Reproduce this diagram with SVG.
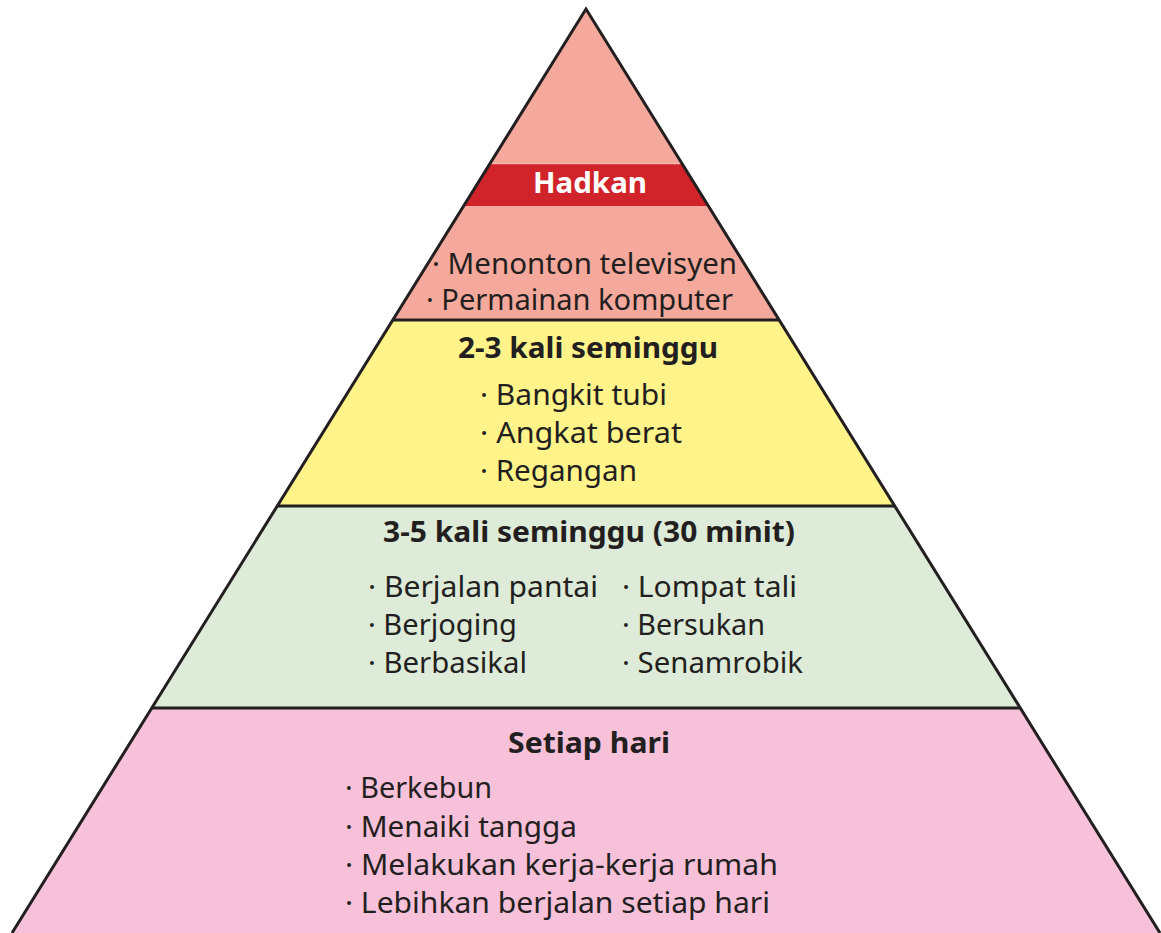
<svg xmlns="http://www.w3.org/2000/svg" width="1161" height="933" viewBox="0 0 1161 933">
  <style>
    .t { font-family: "Noto Sans", "Open Sans", "DejaVu Sans", sans-serif; font-size: 29px; fill: #231F20; }
    .h { font-family: "Noto Sans", "Open Sans", "DejaVu Sans", sans-serif; font-size: 29px; font-weight: bold; fill: #231F20; text-anchor: middle; }
    .w { fill: #FFFFFF; }
    .edge { fill: none; stroke: #231F20; stroke-width: 3; stroke-linejoin: miter; }
    .div { stroke: #231F20; stroke-width: 3; }
  </style>
  <rect width="1161" height="933" fill="#FFFFFF"/>

  <!-- Top tier: limit -->
  <g id="tier-hadkan">
    <polygon points="586,9 392.8,320 779.2,320" fill="#F5A99C"/>
    <polygon points="490.3,163 681.7,163 708.4,206 463.6,206" fill="#D1232A"/>
    <line x1="490.3" y1="163.5" x2="681.7" y2="163.5" stroke="#F2B7AE" stroke-width="1.5"/>
    <text class="h w" x="590" y="193" textLength="114" lengthAdjust="spacingAndGlyphs">Hadkan</text>
    <text class="t" x="432" y="274" textLength="305" lengthAdjust="spacingAndGlyphs">· Menonton televisyen</text>
    <text class="t" x="426" y="310" textLength="307" lengthAdjust="spacingAndGlyphs">· Permainan komputer</text>
  </g>

  <!-- Second tier: 2-3 times a week -->
  <g id="tier-2-3">
    <polygon points="392.8,320 779.2,320 894.7,506 277.3,506" fill="#FFF38A"/>
    <text class="h" x="588" y="358" textLength="260" lengthAdjust="spacingAndGlyphs">2-3 kali seminggu</text>
    <text class="t" x="480" y="405" textLength="187" lengthAdjust="spacingAndGlyphs">· Bangkit tubi</text>
    <text class="t" x="480" y="443" textLength="202" lengthAdjust="spacingAndGlyphs">· Angkat berat</text>
    <text class="t" x="480" y="481" textLength="157" lengthAdjust="spacingAndGlyphs">· Regangan</text>
  </g>

  <!-- Third tier: 3-5 times a week -->
  <g id="tier-3-5">
    <polygon points="277.3,506 894.7,506 1020.2,708 151.8,708" fill="#DDEBD8"/>
    <text class="h" x="589" y="542" textLength="412" lengthAdjust="spacingAndGlyphs">3-5 kali seminggu (30 minit)</text>
    <text class="t" x="368" y="597" textLength="230" lengthAdjust="spacingAndGlyphs">· Berjalan pantai</text>
    <text class="t" x="368" y="635" textLength="149" lengthAdjust="spacingAndGlyphs">· Berjoging</text>
    <text class="t" x="368" y="673" textLength="159" lengthAdjust="spacingAndGlyphs">· Berbasikal</text>
    <text class="t" x="622" y="597" textLength="175" lengthAdjust="spacingAndGlyphs">· Lompat tali</text>
    <text class="t" x="622" y="635" textLength="143" lengthAdjust="spacingAndGlyphs">· Bersukan</text>
    <text class="t" x="622" y="673" textLength="181" lengthAdjust="spacingAndGlyphs">· Senamrobik</text>
  </g>

  <!-- Base tier: every day -->
  <g id="tier-setiap-hari">
    <polygon points="151.8,708 1020.2,708 1160,933 12,933" fill="#F6C1D9"/>
    <text class="h" x="589" y="753" textLength="162" lengthAdjust="spacingAndGlyphs">Setiap hari</text>
    <text class="t" x="345" y="798" textLength="147" lengthAdjust="spacingAndGlyphs">· Berkebun</text>
    <text class="t" x="345" y="837" textLength="232" lengthAdjust="spacingAndGlyphs">· Menaiki tangga</text>
    <text class="t" x="345" y="875" textLength="433" lengthAdjust="spacingAndGlyphs">· Melakukan kerja-kerja rumah</text>
    <text class="t" x="345" y="913" textLength="425" lengthAdjust="spacingAndGlyphs">· Lebihkan berjalan setiap hari</text>
  </g>

  <!-- Outline and tier dividers -->
  <g id="outline">
    <line class="div" x1="392.8" y1="320" x2="779.2" y2="320"/>
    <line class="div" x1="277.3" y1="506" x2="894.7" y2="506"/>
    <line class="div" x1="151.8" y1="708" x2="1020.2" y2="708"/>
    <polyline class="edge" points="12,933 586,9 1160,933"/>
  </g>
</svg>
